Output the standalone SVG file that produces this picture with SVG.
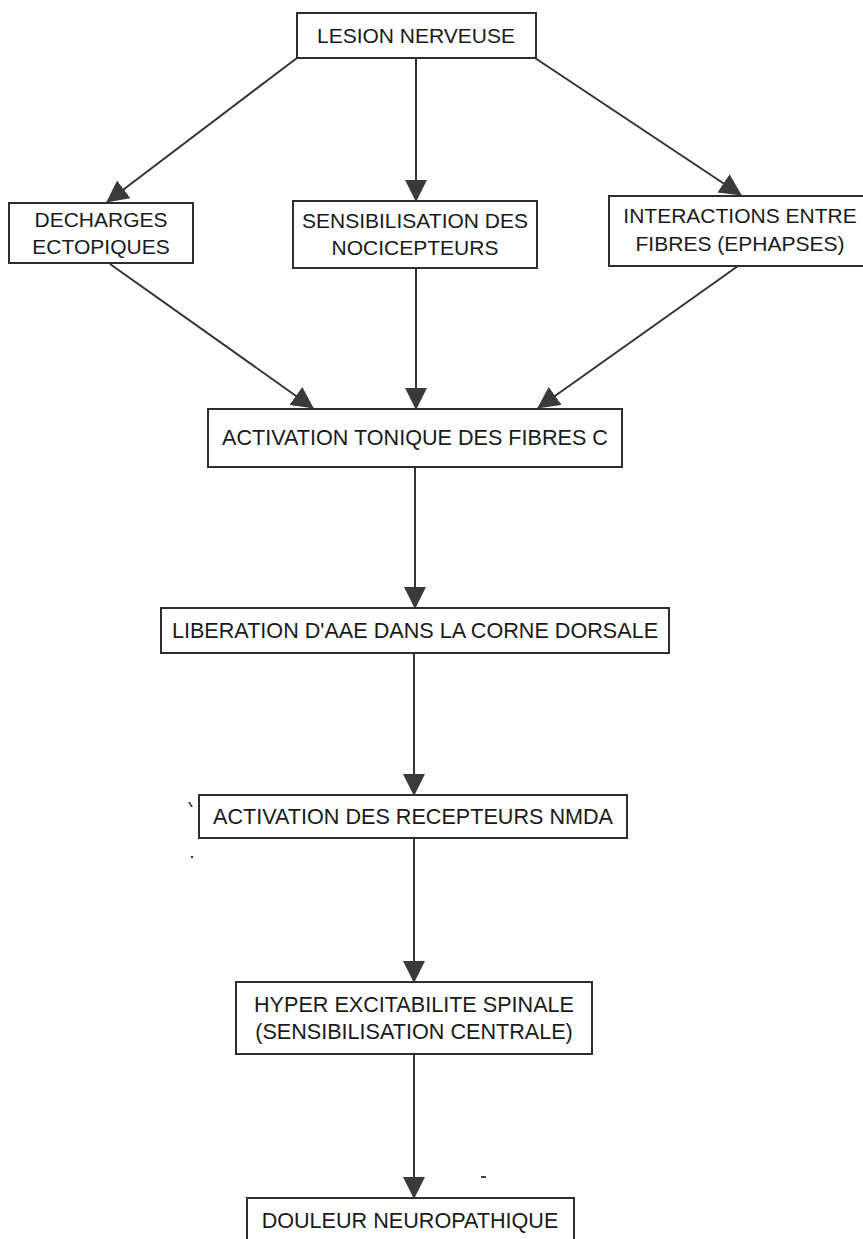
<svg xmlns="http://www.w3.org/2000/svg" width="863" height="1239" viewBox="0 0 863 1239">
<style>
  .box { fill: #ffffff; stroke: #2e2e2e; stroke-width: 2; }
  .lbl { font-family: "Liberation Sans", Arial, sans-serif; font-size: 21px; fill: #1a1a1a; text-anchor: middle; }
  .big { font-size: 21.6px; }
  .edge { stroke: #333333; stroke-width: 2; fill: none; marker-end: url(#arr); }
</style>
<defs>
  <marker id="arr" markerUnits="userSpaceOnUse" markerWidth="22" markerHeight="22" refX="21" refY="11" orient="auto" viewBox="0 0 22 22">
    <path d="M0,0 L22,11 L0,22 z" fill="#3a3a3a"/>
  </marker>
</defs>
<rect x="0" y="0" width="863" height="1239" fill="#ffffff"/>

<g id="connectors">
  <line class="edge" x1="297" y1="58" x2="107" y2="202"/>
  <line class="edge" x1="416" y1="58" x2="416" y2="201"/>
  <line class="edge" x1="535" y1="58" x2="741" y2="195"/>
  <line class="edge" x1="110" y1="264" x2="313" y2="408"/>
  <line class="edge" x1="416" y1="268" x2="416" y2="409"/>
  <line class="edge" x1="738" y1="266" x2="538" y2="408"/>
  <line class="edge" x1="415" y1="467" x2="415" y2="608"/>
  <line class="edge" x1="414" y1="653" x2="414" y2="795"/>
  <line class="edge" x1="414" y1="838" x2="414" y2="982"/>
  <line class="edge" x1="414" y1="1054" x2="414" y2="1198"/>
</g>

<g id="lesion">
  <rect class="box" x="297" y="13" width="239" height="45"/>
  <text class="lbl" x="416" y="43">LESION NERVEUSE</text>
</g>
<g id="decharges">
  <rect class="box" x="9" y="203" width="184" height="60"/>
  <text class="lbl" x="101" y="227">DECHARGES</text>
  <text class="lbl" x="101" y="254">ECTOPIQUES</text>
</g>
<g id="sensibilisation">
  <rect class="box" x="293" y="201" width="244" height="67"/>
  <text class="lbl" x="415" y="228">SENSIBILISATION DES</text>
  <text class="lbl" x="415" y="255">NOCICEPTEURS</text>
</g>
<g id="interactions">
  <rect class="box" x="609" y="196" width="262" height="70"/>
  <text class="lbl" x="740" y="223">INTERACTIONS ENTRE</text>
  <text class="lbl" x="740" y="251">FIBRES (EPHAPSES)</text>
</g>
<g id="activation-tonique">
  <rect class="box" x="208" y="409" width="414" height="58"/>
  <text class="lbl big" x="415" y="445">ACTIVATION TONIQUE DES FIBRES C</text>
</g>
<g id="liberation">
  <rect class="box" x="161" y="608" width="508" height="45"/>
  <text class="lbl big" x="415" y="638">LIBERATION D'AAE DANS LA CORNE DORSALE</text>
</g>
<g id="nmda">
  <rect class="box" x="199" y="795" width="428" height="43"/>
  <text class="lbl big" x="413" y="824">ACTIVATION DES RECEPTEURS NMDA</text>
</g>
<g id="hyper">
  <rect class="box" x="236" y="982" width="356" height="72"/>
  <text class="lbl big" x="414" y="1012">HYPER EXCITABILITE SPINALE</text>
  <text class="lbl big" x="414" y="1039">(SENSIBILISATION CENTRALE)</text>
</g>
<g id="douleur">
  <rect class="box" x="247" y="1198" width="327" height="60"/>
  <text class="lbl big" x="410" y="1228">DOULEUR NEUROPATHIQUE</text>
</g>

<g id="specks" fill="#444444" stroke="none">
  <path d="M188,802 L190,802 L193,807 L191,807 z"/>
  <circle cx="192" cy="857" r="1.3"/>
  <rect x="481" y="1176" width="5" height="2"/>
</g>
</svg>
